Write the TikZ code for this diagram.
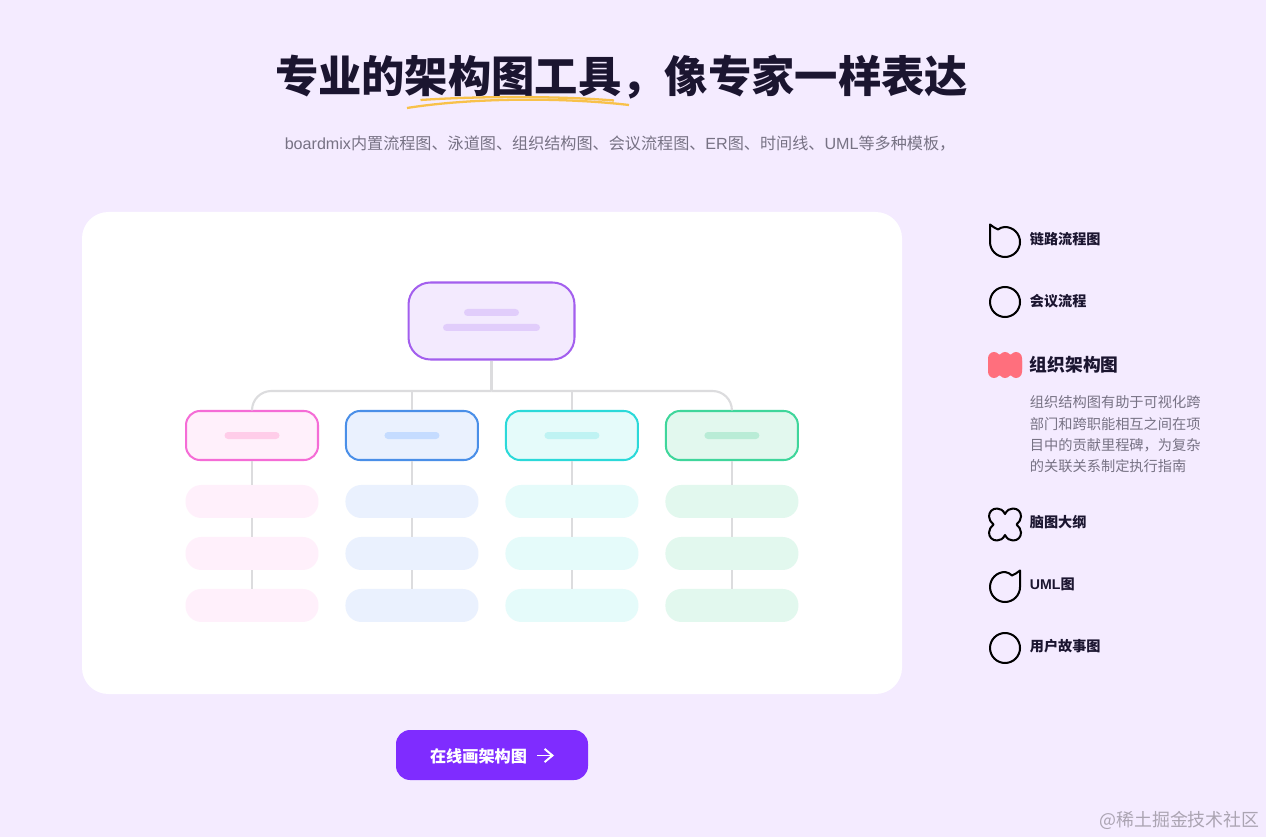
\documentclass[tikz,border=0pt]{standalone}
\usepackage{fontspec}
\setmainfont{Noto Sans CJK SC}
\newfontfamily\latinfont{Liberation Sans}
\usepackage{tikz}
\usetikzlibrary{arrows,arrows.meta}
\definecolor{pagebg}{HTML}{F4EBFF}
\definecolor{ink}{HTML}{1B1530}
\definecolor{greytext}{HTML}{777284}
\definecolor{linkgrey}{HTML}{DCDCDE}
\definecolor{marker}{HTML}{F8C14A}
\definecolor{rowred}{HTML}{FF6F7D}
\definecolor{cta}{HTML}{7F2CFF}
\definecolor{root line}{HTML}{A35FEE}
\definecolor{root fill}{HTML}{F3EAFE}
\definecolor{root bar}{HTML}{E1CDFB}
\definecolor{pink line}{HTML}{F56CD6}
\definecolor{pink fill}{HTML}{FFF0FB}
\definecolor{pink bar}{HTML}{FFCDE9}
\definecolor{blue line}{HTML}{4A8FE8}
\definecolor{blue fill}{HTML}{EAF1FE}
\definecolor{blue bar}{HTML}{C5DCFF}
\definecolor{cyan line}{HTML}{2BD9D9}
\definecolor{cyan fill}{HTML}{E5FBFA}
\definecolor{cyan bar}{HTML}{BFF3F3}
\definecolor{green line}{HTML}{3FD69B}
\definecolor{green fill}{HTML}{E2F8EE}
\definecolor{green bar}{HTML}{B9ECD6}

\begin{document}
\begin{tikzpicture}[x=0.02cm,y=-0.02cm,>=stealth',
link/.style={-,line width=1.2pt,draw=linkgrey},
main node/.style={rectangle,draw,line width=1.15pt,inner sep=0pt,rounded corners=8pt,minimum width=2.64cm,minimum height=0.98cm},
root node/.style={main node,rounded corners=12.5pt,minimum width=3.32cm,minimum height=1.54cm,draw=root line,fill=root fill},
row node/.style={rectangle,inner sep=0pt,rounded corners=9pt,minimum width=2.66cm,minimum height=0.66cm},
bar node/.style={rectangle,inner sep=0pt,rounded corners=2pt,minimum width=1.1cm,minimum height=0.14cm},
label node/.style={anchor=west,inner sep=0pt,text=ink,font=\fontsize{8.05}{10}\selectfont\bfseries},
icon/.style={line width=1.15pt,draw=black,line join=round}]

% page and panel
\fill[pagebg] (0,0) rectangle (1266,837);
\useasboundingbox (0,0) rectangle (1266,837);
\fill[white,rounded corners=15pt] (82,212) rectangle (902,694);

% heading
\node[inner sep=0pt,text=ink,font=\fontsize{24.65}{28}\selectfont\bfseries] (title) at (621.5,77.5) {专业的架构图工具，像专家一样表达};
\draw[marker,line width=1.3pt] (420.5,100) .. controls (480,96) and (560,96) .. (614,100.5);
\draw[marker,line width=1.3pt] (407,108) .. controls (470,98) and (560,97) .. (629,105);
\node[inner sep=0pt,text=greytext,font=\fontsize{9.17}{11}\selectfont] (sub) at (620,144) {{\latinfont boardmix}内置流程图、泳道图、组织结构图、会议流程图、{\latinfont ER}图、时间线、{\latinfont UML}等多种模板，};

% chart
\node[root node] (r) at (491.5,321) {};
\node[bar node,fill=root bar] (r1) at (491.5,312.5) {};
\node[bar node,fill=root bar,minimum width=1.94cm] (r2) at (491.5,327.5) {};
\node[main node,draw=pink line,fill=pink fill] (p) at (252,435.5) {};
\node[main node,draw=blue line,fill=blue fill,node distance=3.2cm] (b) [right of=p] {};
\node[main node,draw=cyan line,fill=cyan fill,node distance=3.2cm] (c) [right of=b] {};
\node[main node,draw=green line,fill=green fill,node distance=3.2cm] (g) [right of=c] {};
\node[bar node,fill=pink bar] (p0) at (p) {};
\node[bar node,fill=blue bar] (b0) at (b) {};
\node[bar node,fill=cyan bar] (c0) at (c) {};
\node[bar node,fill=green bar] (g0) at (g) {};
\node[row node,fill=pink fill,node distance=1.32cm] (p1) [below of=p] {};
\node[row node,fill=pink fill,node distance=1.04cm] (p2) [below of=p1] {};
\node[row node,fill=pink fill,node distance=1.04cm] (p3) [below of=p2] {};
\node[row node,fill=blue fill,node distance=1.32cm] (b1) [below of=b] {};
\node[row node,fill=blue fill,node distance=1.04cm] (b2) [below of=b1] {};
\node[row node,fill=blue fill,node distance=1.04cm] (b3) [below of=b2] {};
\node[row node,fill=cyan fill,node distance=1.32cm] (c1) [below of=c] {};
\node[row node,fill=cyan fill,node distance=1.04cm] (c2) [below of=c1] {};
\node[row node,fill=cyan fill,node distance=1.04cm] (c3) [below of=c2] {};
\node[row node,fill=green fill,node distance=1.32cm] (g1) [below of=g] {};
\node[row node,fill=green fill,node distance=1.04cm] (g2) [below of=g1] {};
\node[row node,fill=green fill,node distance=1.04cm] (g3) [below of=g2] {};
\coordinate (bus) at (491.5,391);
\draw[link] (r) -- (bus);
\draw[link,rounded corners=11pt] (p) |- (bus);
\draw[link,rounded corners=11pt] (g) |- (bus);
\draw[link] (b) -- (b|-bus);
\draw[link] (c) -- (c|-bus);
\path[link]
(p) edge (p1) (p1) edge (p2) (p2) edge (p3)
(b) edge (b1) (b1) edge (b2) (b2) edge (b3)
(c) edge (c1) (c1) edge (c2) (c2) edge (c3)
(g) edge (g1) (g1) edge (g2) (g2) edge (g3);

% list on the right
\draw[icon] (990,224.5) .. controls (993,226) and (995,229) .. (998,229.5) .. controls (1000,228) and (1002,227) .. (1005,227) arc[start angle=-90,end angle=180,radius=15] -- cycle;
\node[label node] (l1) at (1029.5,239) {链路流程图};
\draw[icon] (1005,302) circle (15);
\node[label node] (l2) at (1029.5,301) {会议流程};
\fill[rowred,rounded corners=3.5pt] (988,354.5) rectangle (1022,375.5);
\fill[rowred,rounded corners=3.5pt] (988,352) rectangle (1000,378);
\fill[rowred,rounded corners=3.5pt] (999,352) rectangle (1011,378);
\fill[rowred,rounded corners=3.5pt] (1010,352) rectangle (1022,378);
\node[label node,font=\fontsize{10.1}{12}\selectfont\bfseries] (l3) at (1029.5,365) {组织架构图};
\node[anchor=north west,inner sep=0pt,align=left,text=greytext,font=\fontsize{8.1}{12.1}\selectfont] (d3) at (1029.5,395.5) {组织结构图有助于可视化跨\\部门和跨职能相互之间在项\\目中的贡献里程碑，为复杂\\的关联关系制定执行指南};
\draw[icon] (1005,514) .. controls (1007,510) and (1010,508.5) .. (1013,508.5) .. controls (1018,508.5) and (1021,512) .. (1021,516.5) .. controls (1021,519.5) and (1019,522.5) .. (1016.5,524.5)
.. controls (1019,526.5) and (1021,529.5) .. (1021,532.5) .. controls (1021,537) and (1018,540.5) .. (1013,540.5) .. controls (1010,540.5) and (1007,539) .. (1005,535)
.. controls (1003,539) and (1000,540.5) .. (997,540.5) .. controls (992,540.5) and (989,537) .. (989,532.5) .. controls (989,529.5) and (991,526.5) .. (993.5,524.5)
.. controls (991,522.5) and (989,519.5) .. (989,516.5) .. controls (989,512) and (992,508.5) .. (997,508.5) .. controls (1000,508.5) and (1003,510) .. cycle;
\node[label node] (l4) at (1029.5,522) {脑图大纲};
\draw[icon] (1020,570.5) -- (1020,587) arc[start angle=0,end angle=270,radius=15] .. controls (1008,572) and (1010,574) .. (1012,575.5) .. controls (1015,575) and (1017,572) .. cycle;
\node[label node] (l5) at (1029.5,584) {{\latinfont UML}图};
\draw[icon] (1005,648) circle (15);
\node[label node] (l6) at (1029.5,646) {用户故事图};

% button
\fill[cta,rounded corners=8pt] (396,730) rectangle (588,780);
\node[inner sep=0pt,text=white,font=\fontsize{9.2}{11}\selectfont\bfseries] (go) at (478.5,756) {在线画架构图};
\coordinate (a1) at (537,755.5);
\coordinate (a2) at (554,755.5);
\draw[-{Straight Barb[length=4.5pt,width=7.5pt]},white,line width=1.1pt] (a1) -- (a2);

\node[anchor=east,inner sep=0pt,text=black!30!pagebg,font=\fontsize{10.2}{12}\selectfont] (mark) at (1260,820) {@稀土掘金技术社区};
\end{tikzpicture}
\end{document}
